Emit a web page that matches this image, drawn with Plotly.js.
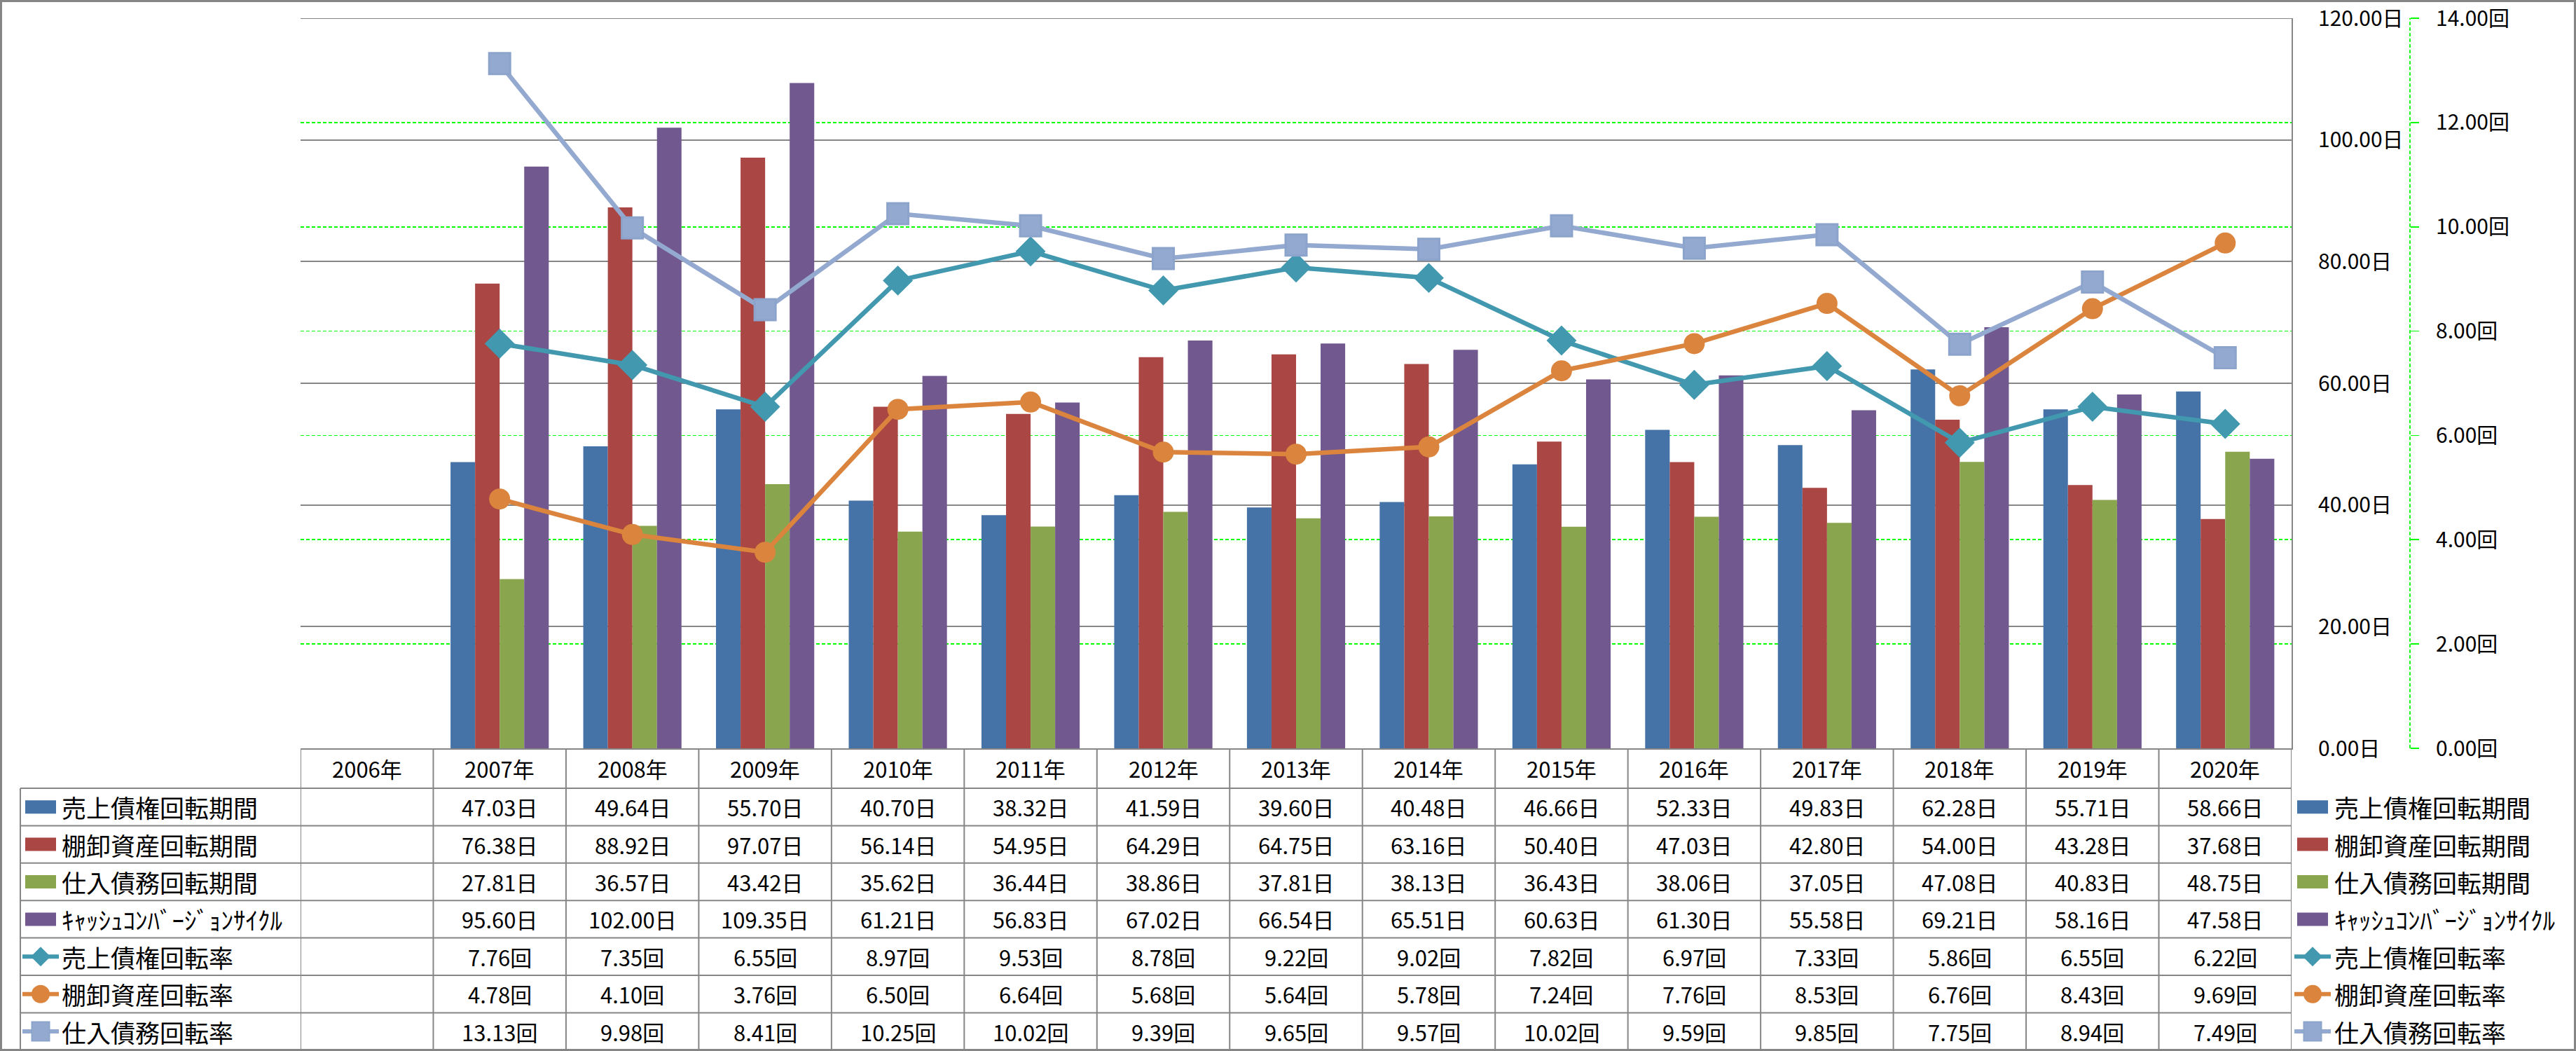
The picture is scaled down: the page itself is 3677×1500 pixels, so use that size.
<!DOCTYPE html>
<html><head><meta charset="utf-8">
<script src="https://cdn.plot.ly/plotly-3.0.1.min.js"></script>
<style>html,body{margin:0;padding:0;background:#fff;}</style>
</head><body><div id="chart" style="width:3677px;height:1500px;"></div>
<script>
// ---- data ----
const years = ['2006年','2007年','2008年','2009年','2010年','2011年','2012年','2013年','2014年','2015年','2016年','2017年','2018年','2019年','2020年'];
const arDays  = [null,47.03,49.64,55.70,40.70,38.32,41.59,39.60,40.48,46.66,52.33,49.83,62.28,55.71,58.66];
const invDays = [null,76.38,88.92,97.07,56.14,54.95,64.29,64.75,63.16,50.40,47.03,42.80,54.00,43.28,37.68];
const apDays  = [null,27.81,36.57,43.42,35.62,36.44,38.86,37.81,38.13,36.43,38.06,37.05,47.08,40.83,48.75];
const cccDays = [null,95.60,102.00,109.35,61.21,56.83,67.02,66.54,65.51,60.63,61.30,55.58,69.21,58.16,47.58];
const arTurn  = [null,7.76,7.35,6.55,8.97,9.53,8.78,9.22,9.02,7.82,6.97,7.33,5.86,6.55,6.22];
const invTurn = [null,4.78,4.10,3.76,6.50,6.64,5.68,5.64,5.78,7.24,7.76,8.53,6.76,8.43,9.69];
const apTurn  = [null,13.13,9.98,8.41,10.25,10.02,9.39,9.65,9.57,10.02,9.59,9.85,7.75,8.94,7.49];
const seriesNames = ['売上債権回転期間','棚卸資産回転期間','仕入債務回転期間','ｷｬｯｼｭｺﾝﾊﾞｰｼﾞｮﾝｻｲｸﾙ','売上債権回転率','棚卸資産回転率','仕入債務回転率'];
const dayUnit = '日', turnUnit = '回';
const dayTicks = [0,20,40,60,80,100,120];
const turnTicks = [0,2,4,6,8,10,12,14];

// ---- styles / geometry ----
const FONT = '"Noto Sans CJK JP", "Noto Sans", sans-serif';
const colors = ['#4572A7','#AA4643','#89A54E','#71588F','#4198AF','#DB843D','#93A9CF'];
const symbols = ['diamond','circle','square'];
const msizes = [33,30,30];
const FW = 3677, FH = 1500, L = 429, R = 3271, T = 26, B = 1068;
const px2x = p => (p - L) / (R - L);
const px2y = p => (B - p) / (B - T);
const gray = '#868686';
const rowLines = [1068,1125,1178.4,1231.8,1285.2,1338.6,1392,1445.4,1498.8];

const dayData = [arDays, invDays, apDays, cccDays];
const turnData = [arTurn, invTurn, apTurn];

const traces = [];
dayData.forEach((d,i) => traces.push({
  type:'bar', x: years, y: d, name: seriesNames[i], marker:{color: colors[i]},
  yaxis:'y', hoverinfo:'x+y+name'
}));
turnData.forEach((d,i) => traces.push({
  type:'scatter', mode:'lines+markers', x: years, y: d, name: seriesNames[4+i],
  yaxis:'y2', line:{color: colors[4+i], width:6.5},
  marker:{symbol: symbols[i], size: msizes[i], color: colors[4+i],
    line: i === 2 ? {color:'#8CA3CB', width:3} : {width:0}}
}));

const shapes = [];
const annotations = [];
// outer border
shapes.push({type:'rect', xref:'paper', yref:'paper', x0:px2x(1.5), x1:px2x(3675.5), y0:px2y(1498.5), y1:px2y(1.5),
  line:{color:gray, width:3}, fillcolor:'rgba(0,0,0,0)'});
// top gridline (max of the day axis)
shapes.push({type:'line', xref:'paper', yref:'y', x0:0, x1:1, y0:dayTicks[dayTicks.length-1], y1:dayTicks[dayTicks.length-1],
  line:{color:gray, width:2}, layer:'below'});
// secondary axis dashed line
shapes.push({type:'line', xref:'paper', yref:'paper', x0:px2x(3440), x1:px2x(3440), y0:0, y1:1,
  line:{color:'#00FF00', width:1.8, dash:'5px,3px'}});
// table horizontal lines
for (let k = 1; k < rowLines.length; k++) {
  shapes.push({type:'line', xref:'paper', yref:'paper', x0:px2x(29), x1:1, y0:px2y(rowLines[k]), y1:px2y(rowLines[k]),
    line:{color:gray, width:2}});
}
// table vertical lines
for (let c = 0; c <= years.length; c++) {
  shapes.push({type:'line', xref:'x', yref:'paper', x0:c-0.5, x1:c-0.5, y0:px2y(rowLines[0]), y1:px2y(rowLines[8]),
    line:{color:gray, width:2}});
}
shapes.push({type:'line', xref:'paper', yref:'paper', x0:px2x(29), x1:px2x(29), y0:px2y(rowLines[1]), y1:px2y(rowLines[8]),
  line:{color:gray, width:2}});

// header row
years.forEach(yr => annotations.push({xref:'x', yref:'paper', x: yr, y: px2y((rowLines[0]+rowLines[1])/2),
  text: yr, showarrow:false, xanchor:'center', yanchor:'middle', font:{size:31, color:'#000', family:FONT}}));

// table body
const allRows = [...dayData, ...turnData];
function legendSymbol(i, cx, cy) {
  if (i < 4) {
    shapes.push({type:'rect', xref:'paper', yref:'paper', x0:px2x(cx-22), x1:px2x(cx+22), y0:px2y(cy+9.5), y1:px2y(cy-9.5),
      fillcolor: colors[i], line:{width:0}});
  } else {
    const c = colors[i];
    shapes.push({type:'line', xref:'paper', yref:'paper', x0:px2x(cx-26), x1:px2x(cx+26), y0:px2y(cy), y1:px2y(cy),
      line:{color:c, width:6}});
    const s = i - 4;
    if (s === 0) {
      const h = 14;
      const path = `M${px2x(cx-h)},${px2y(cy)} L${px2x(cx)},${px2y(cy-h)} L${px2x(cx+h)},${px2y(cy)} L${px2x(cx)},${px2y(cy+h)} Z`;
      shapes.push({type:'path', xref:'paper', yref:'paper', path, fillcolor:c, line:{width:0}});
    } else if (s === 1) {
      shapes.push({type:'circle', xref:'paper', yref:'paper', x0:px2x(cx-13), x1:px2x(cx+13), y0:px2y(cy+13), y1:px2y(cy-13),
        fillcolor:c, line:{width:0}});
    } else {
      shapes.push({type:'rect', xref:'paper', yref:'paper', x0:px2x(cx-12.5), x1:px2x(cx+12.5), y0:px2y(cy+13.5), y1:px2y(cy-13.5),
        fillcolor:c, line:{color:'#8CA3CB', width:2}});
    }
  }
}
allRows.forEach((vals, i) => {
  const cy = (rowLines[i+1] + rowLines[i+2]) / 2;
  const unit = i < 4 ? dayUnit : turnUnit;
  vals.forEach((v, j) => {
    if (v === null) return;
    annotations.push({xref:'x', yref:'paper', x: years[j], y: px2y(cy), text: v.toFixed(2) + unit,
      showarrow:false, xanchor:'center', yanchor:'middle', font:{size:31, color:'#000', family:FONT}});
  });
  // left legend (in table)
  legendSymbol(i, 58, cy);
  annotations.push({xref:'paper', yref:'paper', x: px2x(86), y: px2y(cy), text: seriesNames[i], showarrow:false,
    xanchor:'left', yanchor:'middle', font:{size:35, color:'#000', family:FONT}});
  // right legend
  legendSymbol(i, 3301, cy);
  annotations.push({xref:'paper', yref:'paper', x: px2x(3330), y: px2y(cy), text: seriesNames[i], showarrow:false,
    xanchor:'left', yanchor:'middle', font:{size:35, color:'#000', family:FONT}});
});

const layout = {
  width: FW, height: FH,
  margin: {l: L, r: FW - R, t: T, b: FH - B, pad: 0},
  paper_bgcolor:'#fff', plot_bgcolor:'#fff',
  showlegend: false,
  barmode:'group', bargap:0.26, bargroupgap:0,
  font:{family: FONT, color:'#000'},
  xaxis:{type:'category', range:[-0.5, years.length-0.5], showticklabels:false, ticks:'', showgrid:false,
    zeroline:false, showline:true, linecolor:gray, linewidth:2, fixedrange:true},
  yaxis:{side:'right', range:[0,120], tickmode:'array', tickvals: dayTicks,
    ticktext: dayTicks.map(v => v.toFixed(2) + dayUnit), ticklabeloverflow:'allow',
    showgrid:true, gridcolor:gray, gridwidth:2, zeroline:false, showline:true, linecolor:gray, linewidth:2,
    ticks:'', ticklabelstandoff:30, tickfont:{size:30, family:FONT, color:'#000'}},
  yaxis2:{overlaying:'y', side:'right', anchor:'free', position:1, autoshift:false, shift: 3440 - R,
    range:[0,14], tickmode:'array', tickvals: turnTicks,
    ticktext: turnTicks.map(v => v.toFixed(2) + turnUnit), ticklabeloverflow:'allow',
    showgrid:true, gridcolor:'#00FF00', gridwidth:1.8, griddash:'5px,3px', zeroline:false, showline:false,
    ticks:'outside', ticklen:12, tickwidth:1.8, tickcolor:'#00FF00', ticklabelstandoff:18,
    tickfont:{size:30, family:FONT, color:'#000'}},
  shapes, annotations
};
Plotly.newPlot('chart', traces, layout, {displayModeBar:false, staticPlot:true});
</script>
</body></html>
